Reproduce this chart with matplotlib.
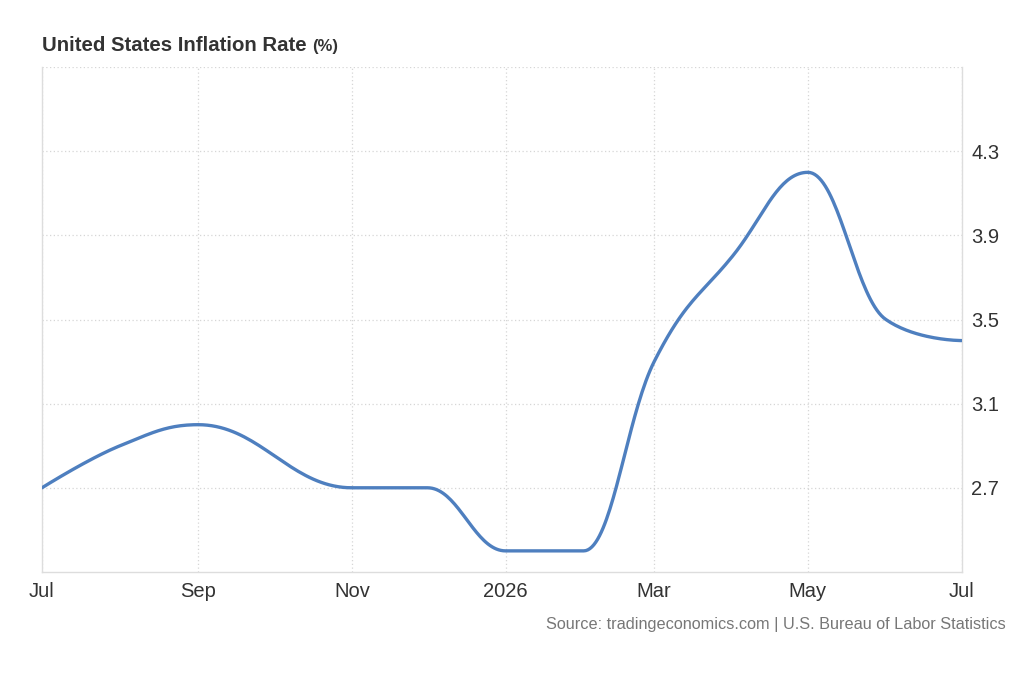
import numpy as np
import matplotlib
matplotlib.use("Agg")
import matplotlib.pyplot as plt
import matplotlib.dates as mdates
import pandas as pd

# data (October 2025 not published -> no point)
dates = ["2025-07-01", "2025-08-01", "2025-09-01", "2025-11-01", "2025-12-01",
         "2026-01-01", "2026-02-01", "2026-03-01", "2026-04-01", "2026-05-01",
         "2026-06-01", "2026-07-01"]
rates = [2.7, 2.9, 3.0, 2.7, 2.7, 2.4, 2.4, 3.3, 3.8, 4.2, 3.5, 3.4]
y_ticks = [2.7, 3.1, 3.5, 3.9, 4.3]
x_ticks = ["2025-07-01", "2025-09-01", "2025-11-01", "2026-01-01",
           "2026-03-01", "2026-05-01", "2026-07-01"]
x_labels = ["Jul", "Sep", "Nov", "2026", "Mar", "May", "Jul"]

plt.rcParams['font.family'] = ['Liberation Sans', 'DejaVu Sans']


def spline_path(xs, ys, smoothing=1.5, n=40):
    # highcharts-like spline
    denom = smoothing + 1
    m = len(xs)
    lc = [(xs[i], ys[i]) for i in range(m)]
    rc = [(xs[i], ys[i]) for i in range(m)]
    for i in range(1, m - 1):
        px, py = xs[i], ys[i]
        lx, ly = xs[i - 1], ys[i - 1]
        nx, ny = xs[i + 1], ys[i + 1]
        lcx = (smoothing * px + lx) / denom
        lcy = (smoothing * py + ly) / denom
        rcx = (smoothing * px + nx) / denom
        rcy = (smoothing * py + ny) / denom
        corr = 0
        if rcx != lcx:
            corr = (rcy - lcy) * (rcx - px) / (rcx - lcx) + py - rcy
        lcy += corr
        rcy += corr
        if lcy > ly and lcy > py:
            lcy = max(ly, py)
            rcy = 2 * py - lcy
        elif lcy < ly and lcy < py:
            lcy = min(ly, py)
            rcy = 2 * py - lcy
        if rcy > ny and rcy > py:
            rcy = max(ny, py)
            lcy = 2 * py - rcy
        elif rcy < ny and rcy < py:
            rcy = min(ny, py)
            lcy = 2 * py - rcy
        lc[i] = (lcx, lcy)
        rc[i] = (rcx, rcy)
    t = np.linspace(0, 1, n)
    outx, outy = [], []
    for i in range(1, m):
        p0 = (xs[i - 1], ys[i - 1])
        p1 = rc[i - 1]
        p2 = lc[i]
        p3 = (xs[i], ys[i])
        bx = ((1 - t) ** 3 * p0[0] + 3 * (1 - t) ** 2 * t * p1[0]
              + 3 * (1 - t) * t ** 2 * p2[0] + t ** 3 * p3[0])
        by = ((1 - t) ** 3 * p0[1] + 3 * (1 - t) ** 2 * t * p1[1]
              + 3 * (1 - t) * t ** 2 * p2[1] + t ** 3 * p3[1])
        outx.extend(bx)
        outy.extend(by)
    return np.array(outx), np.array(outy)


xnum = mdates.date2num(pd.to_datetime(dates))
sx, sy = spline_path(list(xnum), rates)

fig = plt.figure(figsize=(10.24, 7.0), dpi=100)
ax = fig.add_axes([0.041, 0.183, 0.898, 0.721])

ax.plot(sx, sy, color='#4e7fbf', lw=2.4, solid_capstyle='round', zorder=3)

ax.set_xlim(xnum[0], xnum[-1])
ax.set_ylim(2.3, 4.7)

xt = mdates.date2num(pd.to_datetime(x_ticks))
ax.set_xticks(xt)
ax.set_xticklabels(x_labels)
ax.set_yticks(y_ticks + [4.7])
ax.set_yticklabels([f"{v:.1f}" for v in y_ticks] + [""])
ax.yaxis.tick_right()

ax.grid(True, color='#d6d6d6', linestyle=(0, (1, 2)), linewidth=0.9)
ax.tick_params(axis='both', length=0, labelsize=14.5, labelcolor='#333333')
ax.tick_params(axis='x', pad=7)
ax.tick_params(axis='y', pad=7)

for s in ['top']:
    ax.spines[s].set_visible(False)
for s in ['bottom', 'left', 'right']:
    ax.spines[s].set_color('#dddddd')
    ax.spines[s].set_linewidth(1.0)

title = fig.text(0.041, 0.935, "United States Inflation Rate", fontsize=14.7,
                 fontweight='bold', color='#333333', va='center', ha='left')
fig.canvas.draw()
bb = title.get_window_extent().transformed(fig.transFigure.inverted())
fig.text(bb.x1 + 0.005, 0.933, "(%)", fontsize=12, fontweight='bold',
         color='#333333', va='center', ha='left')
fig.text(0.982, 0.108, "Source: tradingeconomics.com | U.S. Bureau of Labor Statistics",
         fontsize=11.7, color='#777777', ha='right', va='center')

fig.savefig("out.png", dpi=100)
